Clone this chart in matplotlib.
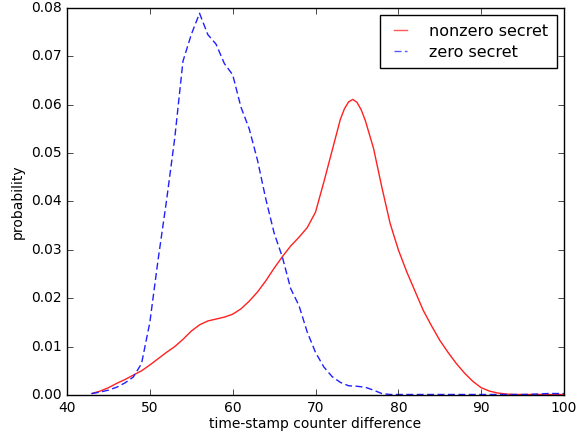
import matplotlib
matplotlib.use("Agg")
import matplotlib.pyplot as plt

plt.style.use("classic")

# sample points of the two estimated densities
x_zero = [43, 44, 45, 46, 47, 48, 49, 50, 51, 52, 53, 54, 55, 56, 57, 58, 59,
          60, 61, 62, 63, 64, 65, 66, 67, 68, 69, 70, 71, 72, 73, 74, 75, 76,
          77, 78, 79, 80, 85, 90, 95, 97, 98, 99, 100]
p_zero = [0.0003, 0.0006, 0.0010, 0.0016, 0.0025, 0.0037, 0.0065, 0.0150,
          0.0280, 0.0400, 0.0530, 0.0690, 0.0745, 0.0789, 0.0745, 0.0725,
          0.0685, 0.0662, 0.0595, 0.0550, 0.0485, 0.0405, 0.0335, 0.0285,
          0.0220, 0.0185, 0.0130, 0.0088, 0.0058, 0.0038, 0.0026, 0.0019,
          0.0018, 0.0016, 0.0010, 0.0003, 0.0001, 0.0001, 0.0001, 0.0001,
          0.0001, 0.0002, 0.0003, 0.0003, 0.0003]

x_nonzero = [43, 44, 45, 46, 47, 48, 49, 50, 51, 52, 53, 54, 55, 56, 57, 58,
             59, 60, 61, 62, 63, 64, 65, 66, 67, 68, 69, 70, 71, 72, 73, 73.5,
             74, 74.5, 75, 75.5, 76, 77, 78, 79, 80, 81, 82, 83, 84, 85, 86,
             87, 88, 89, 90, 91, 92, 93, 94, 100]
p_nonzero = [0.0003, 0.0008, 0.0015, 0.0024, 0.0032, 0.0041, 0.0050, 0.0062,
             0.0075, 0.0088, 0.0100, 0.0115, 0.0132, 0.0145, 0.0153, 0.0157,
             0.0161, 0.0167, 0.0178, 0.0194, 0.0213, 0.0236, 0.0262, 0.0286,
             0.0308, 0.0326, 0.0346, 0.0378, 0.0440, 0.0505, 0.0570, 0.0592,
             0.0606, 0.0611, 0.0605, 0.0590, 0.0568, 0.0510, 0.0430, 0.0355,
             0.0300, 0.0255, 0.0215, 0.0175, 0.0143, 0.0113, 0.0088, 0.0065,
             0.0045, 0.0028, 0.0015, 0.0008, 0.0004, 0.0002, 0.0001, 0.0001]

fig = plt.figure(figsize=(5.8, 4.34), dpi=100, facecolor="white")
ax = fig.add_axes([0.1155, 0.0899, 0.857, 0.8917])

ax.plot(x_nonzero, p_nonzero, color="#ff2020", lw=1.0, label="nonzero secret")
ax.plot(x_zero, p_zero, color="#2020ff", lw=1.0, ls="--", dashes=(5, 2.5),
        label="zero secret")

ax.set_xlim(40, 100)
ax.set_ylim(0, 0.08)
ax.set_xticks(range(40, 101, 10))
ax.set_yticks([i * 0.01 for i in range(9)])
ax.set_yticklabels(["%.2f" % (i * 0.01) for i in range(9)])
ax.tick_params(labelsize=10)
ax.set_xlabel("time-stamp counter difference", fontsize=10, labelpad=2)
ax.set_ylabel("probability", fontsize=10, labelpad=4)
leg = ax.legend(loc="upper right", fontsize=11.5, handlelength=1.45,
                handletextpad=1.05, borderpad=0.55, labelspacing=0.35,
                borderaxespad=0.45)
for line in leg.get_lines():
    line.set_alpha(0.75)

fig.savefig("out.png", dpi=100, facecolor="white")
plt.close("all")
